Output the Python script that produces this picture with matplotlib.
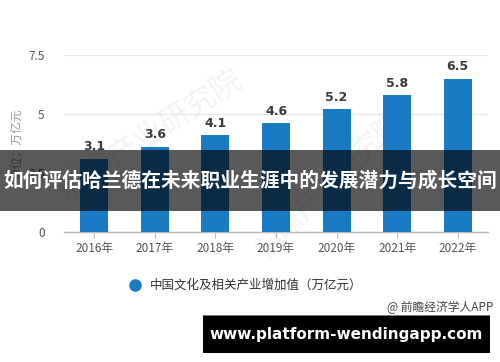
import matplotlib
matplotlib.use("Agg")
import matplotlib.pyplot as plt
from matplotlib.patches import Rectangle
from matplotlib.lines import Line2D

plt.rcParams['font.family'] = ['Noto Sans CJK SC', 'DejaVu Sans']

years = ["2016年", "2017年", "2018年", "2019年", "2020年", "2021年", "2022年"]
values = [3.1, 3.6, 4.1, 4.6, 5.2, 5.8, 6.5]
yticks = [0, 2.5, 5, 7.5]
ytick_labels = ["0", "2.5", "5", "7.5"]
series_name = "中国文化及相关产业增加值（万亿元）"
y_label = "单位：万亿元"
source = "@ 前瞻经济学人APP"
banner_text = "如何评估哈兰德在未来职业生涯中的发展潜力与成长空间"
url_text = "www.platform-wendingapp.com"
watermark = "前瞻产业研究院"

W, H = 500, 362
fig = plt.figure(figsize=(W / 100, H / 100), dpi=100)
fig.patch.set_facecolor("white")

# faint watermarks (drawn beneath the chart)
fig.text(150 / W, 1 - 135 / H, watermark, rotation=33, fontsize=22, color="#f2f2f2",
         ha="center", va="center", zorder=-5)
fig.text(330 / W, 1 - 185 / H, watermark, rotation=45, fontsize=20, color="#f2f2f2",
         ha="center", va="center", zorder=-5)

ax = fig.add_axes([64 / W, (H - 232) / H, (488 - 64) / W, (232 - 55) / H])
ax.patch.set_alpha(0)
x = list(range(len(years)))
bar_color = "#1a7bc5"
ax.bar(x, values, width=0.46, color=bar_color, zorder=3)
for xi, v in zip(x, values):
    ax.annotate(f"{v:.1f}", (xi, v), xytext=(0, 4), textcoords="offset points",
                ha="center", va="bottom", fontsize=9, fontweight="bold",
                color="#3a3a3a", family=['DejaVu Sans'], zorder=4)

ax.set_xlim(-0.5, len(years) - 0.5)
ax.set_ylim(0, 7.5)
ax.set_yticks(yticks)
ax.set_yticklabels(ytick_labels)
ax.set_xticks(x)
ax.set_xticklabels(years)
ax.tick_params(axis="y", length=0, pad=14, labelsize=8.5, labelcolor="#555555")
ax.tick_params(axis="x", length=4, width=0.8, color="#bbbbbb", pad=3,
               labelsize=8.5, labelcolor="#555555")
for s in ["top", "right", "left"]:
    ax.spines[s].set_visible(False)
ax.spines["bottom"].set_color("#bbbbbb")
ax.spines["bottom"].set_linewidth(1)
ax.yaxis.grid(True, color="#e6e6e6", linewidth=1, zorder=0)
ax.set_axisbelow(True)
ax.set_ylabel(y_label, fontsize=8.5, color="#999999", labelpad=4)
ax.yaxis.set_label_coords(-0.097, 0.5)

# legend
fig.add_artist(Line2D([135 / W], [1 - 285 / H], marker="o", markersize=8,
                      color=bar_color, linestyle="none", transform=fig.transFigure))
fig.text(150 / W, 1 - 285 / H, series_name, fontsize=9, color="#333333",
         ha="left", va="center")

# source
fig.text(493 / W, 1 - 307 / H, source, fontsize=8.5, color="#444444",
         ha="right", va="center")

# banner overlay
fig.add_artist(Rectangle((0, 1 - 211 / H), 1, (211 - 150) / H, transform=fig.transFigure,
                         facecolor="black", alpha=0.65, edgecolor="none", zorder=10))
fig.text(0.5, 1 - 181 / H, banner_text, fontsize=14.2, color="white", fontweight="bold",
         ha="center", va="center", zorder=11)

# bottom url box
fig.add_artist(Rectangle((203 / W, 1 - 316 / H), (490 - 203) / W, 1.5 / H,
                         transform=fig.transFigure, facecolor="#777777",
                         edgecolor="none", zorder=10))
fig.add_artist(Rectangle((203 / W, 1 - 353 / H), (490 - 203) / W, (353 - 316) / H,
                         transform=fig.transFigure, facecolor="black",
                         edgecolor="none", zorder=10))
fig.text(346 / W, 1 - 334 / H, url_text, fontsize=11, color="white", fontweight="bold",
         ha="center", va="center", zorder=11, family=['DejaVu Sans'])

fig.savefig("out.png", dpi=100)
